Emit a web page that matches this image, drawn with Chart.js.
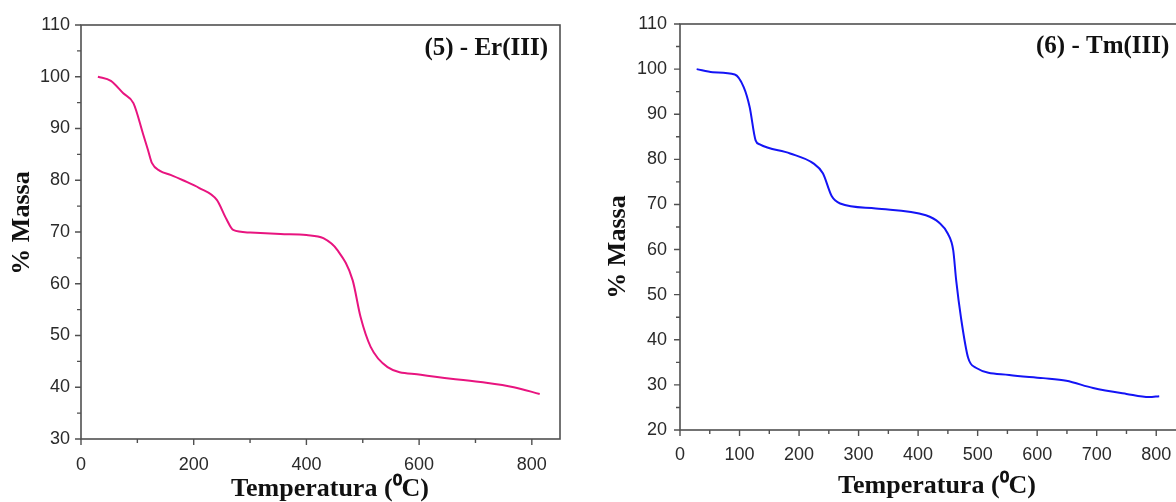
<!DOCTYPE html>
<html lang="pt">
<head>
<meta charset="UTF-8">
<title>TGA Er(III) / Tm(III)</title>
<script src="https://cdn.jsdelivr.net/npm/chart.js"></script>
<style>
  html, body { margin: 0; padding: 0; background: #fff; overflow: hidden; }
  body { width: 1176px; height: 502px; position: relative; }
  canvas { position: absolute; top: 0; }
  #erChart { left: 0; }
  #tmChart { left: 600px; }
</style>
</head>
<body>
<canvas id="erChart" width="590" height="502"></canvas>
<canvas id="tmChart" width="600" height="502"></canvas>
<script>
// Er(III) curve
const erTemp = [30, 53, 75, 93, 110, 119, 126, 140, 160, 181, 210, 241, 258, 270, 300, 354, 400, 430, 455, 482, 496, 514, 544, 603, 709, 768, 814];
const erMass = [100, 99.2, 96.8, 94.9, 89, 85.8, 83.3, 81.8, 81, 80, 78.5, 76.2, 72.5, 70.4, 69.9, 69.6, 69.4, 68.8, 66.5, 60.7, 53.6, 47.8, 43.9, 42.4, 41, 40, 38.7];

// Tm(III) curve
const tmTemp = [28, 55, 92, 107, 117, 127, 134, 185, 224, 240, 255, 269, 329, 413, 435, 450, 459, 464, 472, 484, 497, 553, 610, 649, 694, 750, 788, 805];
const tmMass = [100, 99.3, 98.8, 96, 91.6, 84.2, 83.3, 81.3, 79.1, 76.9, 71.8, 70.2, 69.1, 67.6, 66, 63.5, 59.8, 53.1, 44.9, 36, 33.8, 32.2, 31.5, 30.9, 29.3, 28, 27.3, 27.5];

// tick positions (minor + major); labels only on majors
const erXTicks = [0, 100, 200, 300, 400, 500, 600, 700, 800];
const erXLabels = [0, 200, 400, 600, 800];
const tmXTicks = [0, 50, 100, 150, 200, 250, 300, 350, 400, 450, 500, 550, 600, 650, 700, 750, 800];
const tmXLabels = [0, 100, 200, 300, 400, 500, 600, 700, 800];
const erYTicks = [30, 35, 40, 45, 50, 55, 60, 65, 70, 75, 80, 85, 90, 95, 100, 105, 110];
const tmYTicks = [20, 25, 30, 35, 40, 45, 50, 55, 60, 65, 70, 75, 80, 85, 90, 95, 100, 105, 110];
const yLabels = [20, 30, 40, 50, 60, 70, 80, 90, 100, 110];

const erLabel = '(5) - Er(III)';
const tmLabel = '(6) - Tm(III)';
const yTitle = '% Massa';
const xTitle = 'Temperatura (\u2070C)';

const axisColor = '#505050';
const textColor = '#2a2a2a';
const serifFont = '"Liberation Serif", "Times New Roman", serif';
const sansTicks = { family: '"Liberation Sans", Arial, sans-serif', size: 18 };

// axis lines, frame, tick marks, axis titles and the sample label
const framePlugin = {
  id: 'frame',
  afterDraw(chart, args, opts) {
    const { ctx, chartArea: a, scales } = chart;
    ctx.save();
    ctx.strokeStyle = axisColor;
    ctx.lineWidth = 1.6;
    ctx.strokeRect(a.left, a.top, a.right - a.left, a.bottom - a.top);

    ctx.lineWidth = 1.4;
    ctx.beginPath();
    scales.x.ticks.forEach(t => {
      const px = scales.x.getPixelForValue(t.value);
      const len = opts.xLabels.includes(t.value) ? 6 : 4;
      ctx.moveTo(px, a.bottom);
      ctx.lineTo(px, a.bottom + len);
    });
    scales.y.ticks.forEach(t => {
      const py = scales.y.getPixelForValue(t.value);
      const len = yLabels.includes(t.value) ? 6 : 4;
      ctx.moveTo(a.left, py);
      ctx.lineTo(a.left - len, py);
    });
    ctx.stroke();

    ctx.fillStyle = '#111';
    ctx.font = 'bold 25px ' + serifFont;
    ctx.textBaseline = 'middle';
    ctx.textAlign = opts.align;
    ctx.fillText(opts.label, opts.labelX, opts.labelY);

    // axis titles
    ctx.font = 'bold 26px ' + serifFont;
    ctx.textAlign = 'center';
    ctx.textBaseline = 'alphabetic';
    ctx.fillText(xTitle, opts.xTitleX, opts.xTitleY);

    ctx.translate(opts.yTitleX, opts.yTitleY);
    ctx.rotate(-Math.PI / 2);
    ctx.textBaseline = 'middle';
    ctx.fillText(yTitle, 0, 0);
    ctx.restore();
  }
};

function makeChart(id, temps, mass, color, xTicks, yTicks, o) {
  const pts = temps.map((t, i) => ({ x: t, y: mass[i] }));
  return new Chart(document.getElementById(id), {
    type: 'scatter',
    data: {
      datasets: [{
        data: pts,
        showLine: true,
        borderColor: color,
        borderWidth: 2,
        pointRadius: 0,
        cubicInterpolationMode: 'monotone',
        fill: false
      }]
    },
    options: {
      responsive: false,
      animation: false,
      layout: { padding: { left: 0, top: o.top, right: o.right, bottom: 0 } },
      plugins: {
        legend: { display: false },
        tooltip: { enabled: false },
        frame: o.frame
      },
      scales: {
        x: {
          type: 'linear',
          min: 0,
          max: 850,
          afterBuildTicks: s => { s.ticks = xTicks.map(v => ({ value: v })); },
          afterFit: s => { s.height = o.xHeight; },
          grid: { display: false },
          border: { display: false },
          ticks: {
            autoSkip: false,
            maxRotation: 0,
            padding: o.xPad,
            color: textColor,
            font: sansTicks,
            callback: v => (o.frame.xLabels.includes(v) ? String(v) : '')
          }
        },
        y: {
          min: o.yMin,
          max: 110,
          afterBuildTicks: s => { s.ticks = yTicks.map(v => ({ value: v })); },
          afterFit: s => { s.width = o.yWidth; },
          grid: { display: false },
          border: { display: false },
          ticks: {
            autoSkip: false,
            padding: o.yPad,
            color: textColor,
            font: sansTicks,
            callback: v => (yLabels.includes(v) ? String(v) : '')
          }
        }
      }
    },
    plugins: [framePlugin]
  });
}

makeChart('erChart', erTemp, erMass, '#e8147f', erXTicks, erYTicks, {
  top: 25, right: 30, xHeight: 63, yWidth: 81, yMin: 30, xPad: 7, yPad: 3,
  frame: {
    xLabels: erXLabels, label: erLabel, align: 'right', labelX: 548, labelY: 49,
    xTitleX: 330, xTitleY: 496, yTitleX: 22, yTitleY: 223
  }
});

makeChart('tmChart', tmTemp, tmMass, '#1414f5', tmXTicks, tmYTicks, {
  top: 24, right: 14, xHeight: 72, yWidth: 80, yMin: 20, xPad: 6, yPad: 5,
  frame: {
    xLabels: tmXLabels, label: tmLabel, align: 'left', labelX: 436, labelY: 47,
    xTitleX: 337, xTitleY: 493, yTitleX: 18, yTitleY: 247
  }
});
</script>
</body>
</html>
